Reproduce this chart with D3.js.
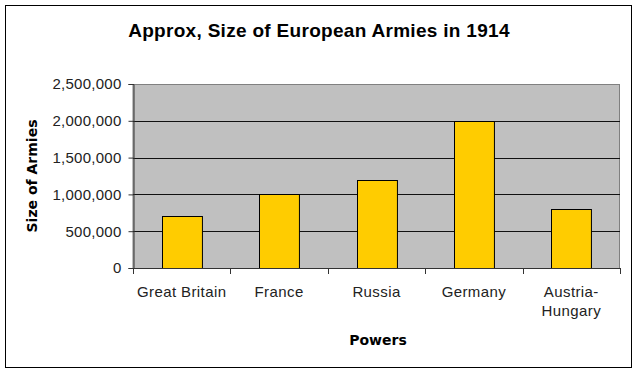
<!DOCTYPE html>
<html>
<head>
<meta charset="utf-8">
<script src="https://cdn.jsdelivr.net/npm/d3@7/dist/d3.min.js"></script>
<style>
  body { margin: 0; background: #fff; }
  text { font-family: "Liberation Sans", Arial, sans-serif; }
</style>
</head>
<body>
<div id="graphicContainer"></div>
<script>

const powers = ["Great Britain", "France", "Russia", "Germany", "Austria-Hungary"]
const armySizes = [700000, 1000000, 1200000, 2000000, 800000]
const yTicks = [0, 500000, 1000000, 1500000, 2000000, 2500000]

const width = 640
const height = 376
const margin = { top: 84, right: 20, bottom: 108, left: 133 }

const svg = d3.select("#graphicContainer").append("svg")
  .attr("width", width)
  .attr("height", height)

// outer frame
svg.append("rect")
  .attr("x", 5.5).attr("y", 5.5)
  .attr("width", 626).attr("height", 362)
  .attr("fill", "#fff")
  .attr("stroke", "#000")
  .attr("stroke-width", 1)

const x = d3.scaleBand()
  .domain(powers)
  .range([margin.left, width - margin.right])
  .paddingInner(0.59)
  .paddingOuter(0.295)

const y = d3.scaleLinear()
  .domain([0, 2500000])
  .range([height - margin.bottom, margin.top])

// plot area
svg.append("rect")
  .attr("x", margin.left)
  .attr("y", y(2500000) + 0.5)
  .attr("width", width - margin.right - margin.left - 0.5)
  .attr("height", y(0) - y(2500000))
  .attr("fill", "#c0c0c0")
  .attr("stroke", "#808080")
  .attr("stroke-width", 1)

// gridlines
svg.append("g")
  .selectAll("line")
  .data(yTicks.filter(d => d > 0 && d < 2500000))
  .enter()
  .append("line")
  .attr("x1", margin.left)
  .attr("x2", width - margin.right)
  .attr("y1", d => Math.round(y(d)) + 0.5)
  .attr("y2", d => Math.round(y(d)) + 0.5)
  .attr("stroke", "#111")
  .attr("stroke-width", 1)

// bars
svg.append("g")
  .selectAll("rect")
  .data(powers.map((p, i) => ({ power: p, value: armySizes[i] })))
  .enter()
  .append("rect")
  .attr("x", d => Math.round(x(d.power)) + 0.5)
  .attr("y", d => Math.round(y(d.value)) + 0.5)
  .attr("width", x.bandwidth())
  .attr("height", d => Math.round(y(0)) - Math.round(y(d.value)))
  .attr("fill", "#ffcc00")
  .attr("stroke", "#000")
  .attr("stroke-width", 1)

// y axis
const yAxis = svg.append("g")
  .attr("transform", `translate(${margin.left + 0.5},0)`)
  .call(d3.axisLeft(y)
    .tickValues(yTicks)
    .tickFormat(d3.format(","))
    .tickSize(5)
    .tickPadding(7))

yAxis.selectAll("text")
  .attr("font-size", 15)
  .attr("fill", "#222")
  .style("letter-spacing", "0.25px")
  .style("font-family", "'Liberation Sans', Arial, sans-serif")

yAxis.selectAll("line, path").attr("stroke", "#333")

// x axis: ticks at category boundaries
const xAxisG = svg.append("g")

xAxisG.append("line")
  .attr("x1", margin.left)
  .attr("x2", width - margin.right)
  .attr("y1", Math.round(y(0)) + 0.5)
  .attr("y2", Math.round(y(0)) + 0.5)
  .attr("stroke", "#333")

xAxisG.selectAll(".tick")
  .data(d3.range(powers.length + 1))
  .enter()
  .append("line")
  .attr("class", "tick")
  .attr("x1", i => Math.round(margin.left + i * x.step()) + 0.5)
  .attr("x2", i => Math.round(margin.left + i * x.step()) + 0.5)
  .attr("y1", Math.round(y(0)))
  .attr("y2", Math.round(y(0)) + 6)
  .attr("stroke", "#333")

const xLabels = xAxisG.selectAll(".xlabel")
  .data(powers)
  .enter()
  .append("text")
  .attr("class", "xlabel")
  .attr("x", d => x(d) + x.bandwidth() / 2)
  .attr("y", 297)
  .attr("text-anchor", "middle")
  .attr("font-size", 15)
  .attr("fill", "#222")
  .style("letter-spacing", "0.4px")

xLabels.each(function(d) {
  const parts = d === "Austria-Hungary" ? ["Austria-", "Hungary"] : [d]
  parts.forEach((p, i) => {
    d3.select(this).append("tspan")
      .attr("x", x(d) + x.bandwidth() / 2)
      .attr("dy", i === 0 ? 0 : 19)
      .text(p)
  })
})

// titles
svg.append("text")
  .attr("x", 319)
  .attr("y", 37)
  .attr("text-anchor", "middle")
  .attr("font-size", 19)
  .attr("font-weight", "bold")
  .style("letter-spacing", "0.3px")
  .text("Approx, Size of European Armies in 1914")

svg.append("text")
  .attr("transform", "translate(37,176) rotate(-90)")
  .attr("text-anchor", "middle")
  .attr("font-size", 14)
  .attr("font-weight", "bold")
  .style("font-family", "'DejaVu Sans', Verdana, sans-serif")
  .text("Size of Armies")

svg.append("text")
  .attr("x", 378)
  .attr("y", 345)
  .attr("text-anchor", "middle")
  .attr("font-size", 14)
  .attr("font-weight", "bold")
  .style("font-family", "'DejaVu Sans', Verdana, sans-serif")
  .text("Powers")

</script>
</body>
</html>
